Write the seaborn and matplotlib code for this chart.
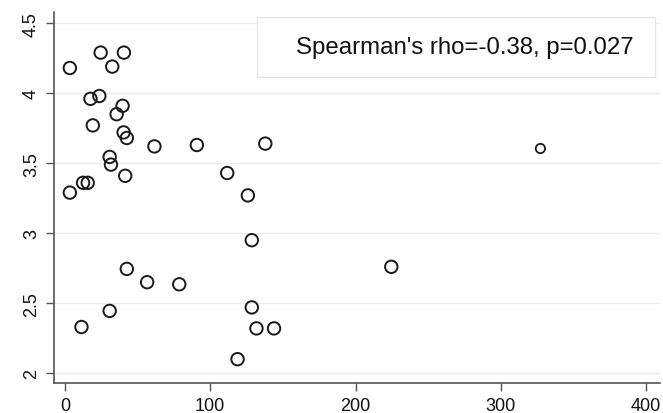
import matplotlib
matplotlib.use("Agg")
import matplotlib.pyplot as plt
import seaborn as sns
import pandas as pd
from matplotlib.patches import Rectangle

x_vals = [3.4, 24.6, 40.6, 32.6, 17.6, 23.7, 39.7, 35.6, 19.2, 40.4, 42.6, 61.6,
          90.8, 30.8, 31.7, 41.5, 12.5, 15.7, 3.4, 111.7, 137.9, 125.9, 128.6,
          224.6, 128.6, 131.8, 143.9, 118.8, 327.2, 11.4, 30.8, 42.6, 56.6, 78.7]
y_vals = [4.18, 4.29, 4.29, 4.19, 3.96, 3.98, 3.91, 3.85, 3.77, 3.72, 3.68, 3.62,
          3.63, 3.545, 3.49, 3.41, 3.36, 3.36, 3.29, 3.43, 3.64, 3.27, 2.95,
          2.76, 2.47, 2.32, 2.32, 2.10, 3.605, 2.33, 2.445, 2.745, 2.65, 2.635]
x_ticks = [0, 100, 200, 300, 400]
y_ticks = [2, 2.5, 3, 3.5, 4, 4.5]
y_tick_labels = ["2", "2.5", "3", "3.5", "4", "4.5"]
annotation = "Spearman's rho=-0.38, p=0.027"

df = pd.DataFrame({"x": x_vals, "y": y_vals})
big = df[df["x"] < 300]
small = df[df["x"] >= 300]

sns.set_style("white")
plt.rcParams["font.family"] = ["Liberation Sans", "DejaVu Sans"]

fig = plt.figure(figsize=(6.63, 4.14), dpi=100)
ax = fig.add_axes([54 / 663, 1 - 384 / 414, (660 - 54) / 663, (384 - 13) / 414])

sns.scatterplot(data=big, x="x", y="y", ax=ax, s=80, marker="o",
                facecolor="none", edgecolor="#1a1a1a", linewidth=1.4)
sns.scatterplot(data=small, x="x", y="y", ax=ax, s=45, marker="o",
                facecolor="none", edgecolor="#1a1a1a", linewidth=1.3)

ax.set_xlim(-7.5, 409.5)
ax.set_ylim(1.93, 4.58)
ax.set_xticks(x_ticks)
ax.set_yticks(y_ticks)
ax.set_yticklabels(y_tick_labels, rotation=90, va="center")
ax.tick_params(axis="both", labelsize=13, direction="out", length=6,
               width=1, color="#555555", labelcolor="#111111", pad=4,
               left=True, bottom=True)
ax.set_xlabel("")
ax.set_ylabel("")
ax.grid(axis="y", color="#ececec", linewidth=1.0)
ax.set_axisbelow(True)
for side in ["top", "right"]:
    ax.spines[side].set_visible(False)
for side in ["left", "bottom"]:
    ax.spines[side].set_color("#555555")
    ax.spines[side].set_linewidth(1.2)

rect = Rectangle((0.335, 0.825), 0.657, 0.161, transform=ax.transAxes,
                 facecolor="white", edgecolor="#e6e6e6", linewidth=1.0, zorder=5)
ax.add_patch(rect)
ax.text(0.678, 0.906, annotation, transform=ax.transAxes, ha="center",
        va="center", fontsize=17.3, color="#111111", zorder=6)

fig.savefig("out.png", dpi=100)
